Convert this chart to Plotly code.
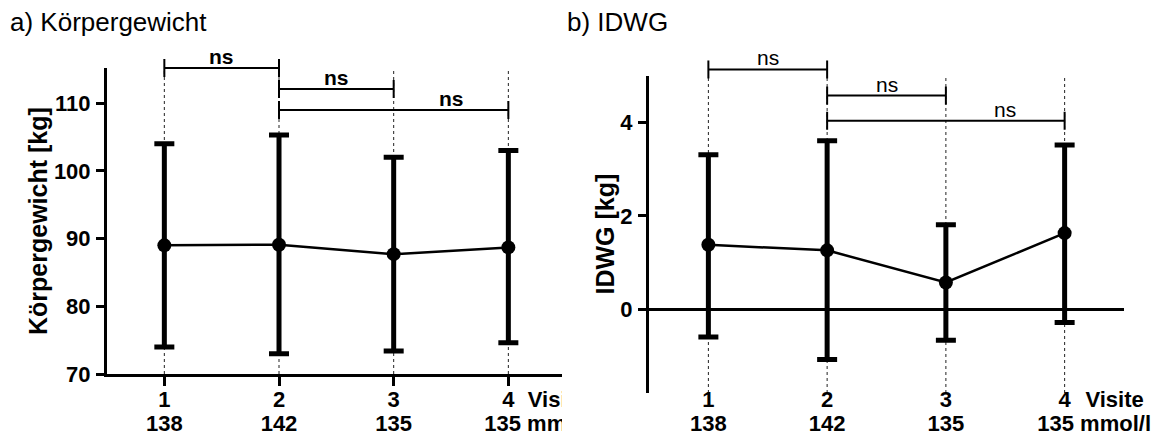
import plotly.graph_objects as go

W, H = 1162, 436

# ---------------- data ----------------
visits = [1, 2, 3, 4]
sodium = ["138", "142", "135", "135"]
visit_axis_label = "Visite"
sodium_unit = "mmol/l"

weight_mean = [89.0, 89.1, 87.7, 88.7]
weight_upper = [104.0, 105.3, 102.0, 103.0]
weight_lower = [74.0, 73.0, 73.4, 74.6]

idwg_mean = [1.38, 1.26, 0.57, 1.63]
idwg_upper = [3.31, 3.61, 1.81, 3.52]
idwg_lower = [-0.60, -1.08, -0.67, -0.29]

bracket_pairs = [(1, 2), (2, 3), (2, 4)]
bracket_labels = ["ns", "ns", "ns"]
bracket_label_x = [1.5, 2.5, 3.5]
weight_bracket_y = [115.2, 112.1, 109.0]
idwg_bracket_y = [5.14, 4.58, 4.04]

y_ticks_a = [70, 80, 90, 100, 110]
y_ticks_b = [0, 2, 4]

# ---------------- layout geometry (pixels) ----------------
FONT = "Liberation Sans, Arial, sans-serif"
A_x_px = (107, 562)
A_y_px = (374, 68)          # bottom, top
A_unit = 114.67             # px per visit
A_yrange = [70, 115.2]
B_x_px = (649, 1124)
B_y_px = (393, 76)
B_unit = 118.75
B_yrange = [-1.8, 5.0]
ROW1_PX, ROW2_PX = 401, 425
TICK_FS = 22


def px_dom_x(p):
    return [p[0] / W, p[1] / W]


def px_dom_y(p):
    return [1 - p[0] / H, 1 - p[1] / H]


A_xdom, A_ydom = px_dom_x(A_x_px), px_dom_y(A_y_px)
B_xdom, B_ydom = px_dom_x(B_x_px), px_dom_y(B_y_px)
A_xrange = [0.5, 0.5 + (A_x_px[1] - A_x_px[0]) / A_unit]
B_xrange = [0.5, 0.5 + (B_x_px[1] - B_x_px[0]) / B_unit]


def to_paper(v, rng, dom):
    return dom[0] + (v - rng[0]) / (rng[1] - rng[0]) * (dom[1] - dom[0])


fig = go.Figure()


def add_panel(xa, ya, mean, upper, lower):
    fig.add_trace(go.Scatter(
        x=visits, y=mean, xaxis=xa, yaxis=ya,
        mode="lines+markers",
        line=dict(color="black", width=2.5),
        marker=dict(color="black", size=14),
        error_y=dict(type="data", symmetric=False,
                     array=[u - m for u, m in zip(upper, mean)],
                     arrayminus=[m - l for m, l in zip(mean, lower)],
                     color="black", thickness=5, width=10),
        showlegend=False, hoverinfo="skip", cliponaxis=False))


add_panel("x", "y", weight_mean, weight_upper, weight_lower)
add_panel("x2", "y2", idwg_mean, idwg_upper, idwg_lower)

# category labels (two rows) + "Visite"/"mmol/l", clipped at the panel edge
row1, row2 = 1 - ROW1_PX / H, 1 - ROW2_PX / H
lblfont = dict(family=FONT, size=TICK_FS, color="black", weight="bold")


def add_labels(xa, ya, visite_dx, unit_dx):
    fig.add_trace(go.Scatter(
        x=visits, y=[row1] * len(visits), xaxis=xa, yaxis=ya, mode="text",
        text=[str(v) for v in visits], textposition="middle center",
        textfont=lblfont, cliponaxis=True, showlegend=False, hoverinfo="skip"))
    fig.add_trace(go.Scatter(
        x=visits[:-1], y=[row2] * (len(visits) - 1), xaxis=xa, yaxis=ya, mode="text",
        text=sodium[:-1], textposition="middle center",
        textfont=lblfont, cliponaxis=True, showlegend=False, hoverinfo="skip"))
    fig.add_trace(go.Scatter(
        x=[visits[-1] + visite_dx, visits[-1] + unit_dx], y=[row1, row2],
        xaxis=xa, yaxis=ya, mode="text",
        text=[visit_axis_label, f"{sodium[-1]} {sodium_unit}"],
        textposition="middle right",
        textfont=lblfont, cliponaxis=True, showlegend=False, hoverinfo="skip"))


add_labels("x3", "y3", 0.17, -0.21)
add_labels("x4", "y4", 0.175, -0.23)

shapes = []
annotations = []


def add_decor(xref, yrange, ydom, bracket_y, bold):
    for v in visits:
        shapes.append(dict(type="line", xref=xref, yref="paper", x0=v, x1=v,
                           y0=ydom[0], y1=ydom[1], layer="below",
                           line=dict(color="#222", width=1, dash="dot")))
    half = 9 / H
    for (a, b), yb, lab, lx in zip(bracket_pairs, bracket_y, bracket_labels, bracket_label_x):
        yp = to_paper(yb, yrange, ydom)
        shapes.append(dict(type="line", xref=xref, yref="paper", x0=a, x1=b,
                           y0=yp, y1=yp, line=dict(color="black", width=2)))
        for xv in (a, b):
            shapes.append(dict(type="line", xref=xref, yref="paper", x0=xv, x1=xv,
                               y0=yp - half, y1=yp + half,
                               line=dict(color="black", width=2)))
        annotations.append(dict(x=lx, y=yp, xref=xref, yref="paper", text=lab,
                                showarrow=False, xanchor="center", yanchor="bottom",
                                yshift=-2,
                                font=dict(family=FONT, size=21, color="black",
                                          weight="bold" if bold else "normal")))


add_decor("x", A_yrange, A_ydom, weight_bracket_y, True)
add_decor("x2", B_yrange, B_ydom, idwg_bracket_y, False)

# panel titles
annotations.append(dict(x=8 / W, y=1 - 22 / H, xref="paper", yref="paper",
                        text="a) Körpergewicht", showarrow=False, xanchor="left",
                        yanchor="middle", font=dict(family=FONT, size=26, color="black")))
annotations.append(dict(x=565 / W, y=1 - 22 / H, xref="paper", yref="paper",
                        text="b) IDWG", showarrow=False, xanchor="left",
                        yanchor="middle", font=dict(family=FONT, size=26, color="black")))
# y-axis titles
annotations.append(dict(x=38 / W, y=(A_ydom[0] + A_ydom[1]) / 2, xref="paper", yref="paper",
                        text="Körpergewicht [kg]", textangle=-90, showarrow=False,
                        xanchor="center", yanchor="middle",
                        font=dict(family=FONT, size=25, color="black", weight="bold")))
annotations.append(dict(x=604 / W, y=(B_ydom[0] + B_ydom[1]) / 2, xref="paper", yref="paper",
                        text="IDWG [kg]", textangle=-90, showarrow=False,
                        xanchor="center", yanchor="middle",
                        font=dict(family=FONT, size=25, color="black", weight="bold")))

tickfont = dict(family=FONT, size=TICK_FS, color="black", weight="bold")

fig.update_layout(
    width=W, height=H, margin=dict(l=0, r=0, t=0, b=0, autoexpand=False),
    paper_bgcolor="white", plot_bgcolor="rgba(0,0,0,0)",
    showlegend=False, shapes=shapes, annotations=annotations,
    xaxis=dict(domain=A_xdom, range=A_xrange, anchor="y", showgrid=False, zeroline=False,
               showline=True, linecolor="black", linewidth=3,
               tickvals=visits, showticklabels=False, ticks="outside", ticklen=9,
               tickwidth=3, tickcolor="black", automargin=False),
    yaxis=dict(domain=A_ydom, range=A_yrange, anchor="x", showgrid=False, zeroline=False,
               showline=True, linecolor="black", linewidth=3,
               tickvals=y_ticks_a, ticks="outside", ticklen=8, tickwidth=3,
               tickcolor="black", tickfont=tickfont, ticklabelstandoff=1,
               automargin=False),
    xaxis2=dict(domain=B_xdom, range=B_xrange, anchor="y2", showgrid=False, zeroline=False,
                showline=False, showticklabels=False, ticks="", automargin=False),
    yaxis2=dict(domain=B_ydom, range=B_yrange, anchor="x2", showgrid=False,
                zeroline=True, zerolinecolor="black", zerolinewidth=2.5,
                showline=True, linecolor="black", linewidth=3,
                tickvals=y_ticks_b, ticks="outside", ticklen=8, tickwidth=3,
                tickcolor="black", tickfont=tickfont, ticklabelstandoff=1,
                automargin=False),
    xaxis3=dict(domain=A_xdom, range=A_xrange, anchor="y3", visible=False),
    yaxis3=dict(domain=[0, 1], range=[0, 1], anchor="x3", visible=False),
    xaxis4=dict(domain=[B_xdom[0], 1], range=[0.5, 0.5 + (W - B_x_px[0]) / B_unit],
                anchor="y4", visible=False),
    yaxis4=dict(domain=[0, 1], range=[0, 1], anchor="x4", visible=False),
)

fig.write_html("out.html")
